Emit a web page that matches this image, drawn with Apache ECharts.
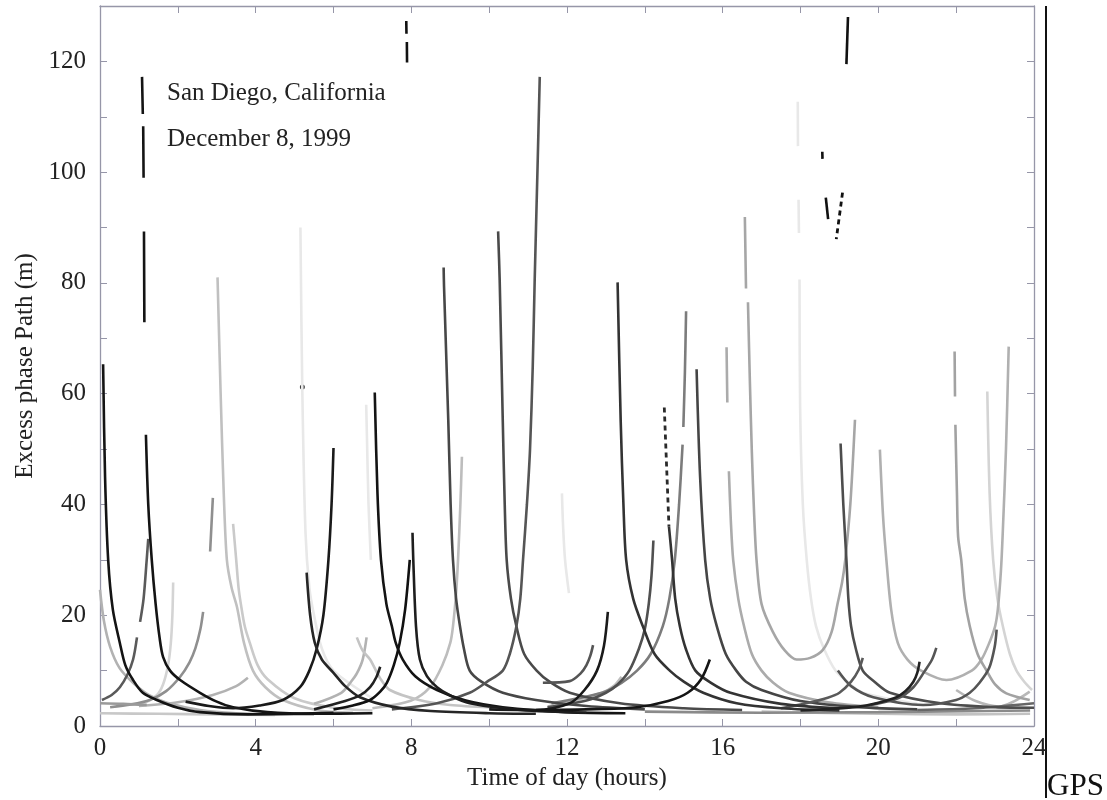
<!DOCTYPE html>
<html><head><meta charset="utf-8">
<script src="https://cdn.jsdelivr.net/npm/echarts@6/dist/echarts.min.js"></script>
<style>html,body{margin:0;padding:0;background:#fff}#c{width:1107px;height:800px}</style>
</head><body><div id="c"></div>
<script>
// ---- data: [time of day (h), excess phase path (m)] ; null = gap in the track ----
const arc01 = [[0.08,65.3],[0.13,45],[0.21,30],[0.33,21],[0.51,15],[0.65,11],[0.85,8.3],[1.1,6],[1.46,4.7],[2.0,3.3],[2.57,2.5],[3.8,2.1],[5.0,2.2],[6.0,2.4]];
const arc02 = [[1.08,117.2],[1.10,110.5],[1.105,null],[1.11,108.3],[1.12,99],[1.125,null],[1.13,89.3],[1.14,72.9],[1.16,null],[1.18,52.6],[1.24,40],[1.33,30],[1.43,22],[1.53,16],[1.62,12.5],[1.8,10],[2.06,8.3],[2.57,6],[3.0,4.4],[3.42,3.4],[4.3,2.5],[5.5,2.2],[7.0,2.3]];
const arc03 = [[0,24.6],[0.1,19],[0.26,14.3],[0.5,10.5],[0.85,7.8],[1.25,5.6],[1.72,4.2],[2.57,2.9],[3.5,2.3],[4.5,2.1],[5.5,2.1]];
const arc04 = [[0.05,4.7],[0.3,5.6],[0.51,7],[0.7,9.2],[0.85,12],[0.95,16],[0.97,null],[1.03,18.8],[1.12,23],[1.2,30],[1.24,33.8]];
const arc05 = [[1.0,3.6],[1.45,5.5],[1.62,7.5],[1.75,11],[1.82,15],[1.86,20],[1.88,25.9]];
const arc06 = [[0.26,3.4],[0.8,3.9],[1.28,4.7],[1.7,6.3],[2.06,8.9],[2.3,11.5],[2.45,14],[2.58,17.5],[2.65,20.6],[2.7,null],[2.83,31.5],[2.9,41.2]];
const arc07 = [[3.02,81],[3.1,60],[3.18,42],[3.26,30],[3.38,25],[3.52,21.5],[3.7,15],[3.93,10],[4.25,7],[4.7,4.7],[5.57,2.9],[6.5,2.4]];
const arc08 = [[3.42,36.5],[3.5,30],[3.56,25],[3.62,22],[3.72,18],[3.85,15],[4.05,11],[4.3,8.5],[5.0,5],[6.0,3.3],[7.0,2.8]];
const arc09 = [[1.0,3.6],[2.0,4.3],[2.9,5.6],[3.5,7.2],[3.8,8.7]];
const arc10 = [[2.2,4.4],[2.8,3.6],[3.42,3.2],[4.1,3.7],[4.7,4.7],[5.14,7],[5.38,10],[5.57,14],[5.74,20],[5.87,30],[5.95,40],[6.0,50.2]];
const arc11 = [[5.31,27.7],[5.4,20],[5.52,15],[5.7,12],[6.0,9.6],[6.3,7.2],[6.68,5.2],[7.5,3.5],[8.5,2.7],[10,2.3],[11.2,2.2]];
const arc12 = [[5.15,90],[5.2,60],[5.28,35],[5.38,25],[5.5,20],[5.7,14],[6.0,10],[7.0,5]];
const arc12b = [[6.84,58],[6.86,52],[6.9,40],[6.96,30]];
const arc12c = [[11.87,42],[11.9,36],[11.95,30],[12.05,24]];
const arc13 = [[7.06,60.2],[7.13,42],[7.22,30],[7.36,22],[7.5,18],[7.6,15],[7.78,12],[8.1,9],[8.66,6.5],[9.4,4.6],[10.35,3.4],[12,2.5],[13.5,2.3]];
const arc14 = [[5.5,4],[6.2,6],[6.45,8],[6.6,9.5],[6.75,12],[6.85,16]];
const arc15 = [[5.5,3],[6.3,4.5],[6.7,5.6],[6.94,7],[7.1,8.8],[7.2,10.7]];
const arc16 = [[6.0,3],[6.5,3.7],[6.94,4.7],[7.2,6.2],[7.37,7.8],[7.55,11],[7.7,15],[7.84,21],[7.96,30]];
const arc16top = [[7.87,127.3],[7.875,125],[7.88,null],[7.885,123.5],[7.89,119.8]];
const arc17 = [[8.03,34.9],[8.05,30],[8.12,18],[8.22,12],[8.4,9],[8.66,7],[9.0,5.5],[9.5,4.1],[10.8,2.9],[12.5,2.4]];
const arc18 = [[8.83,82.8],[8.84,79.4],[8.95,55],[9.01,40],[9.07,30],[9.15,23],[9.25,18],[9.35,14],[9.5,10],[9.8,8],[10.35,6],[11.2,4.7],[12.5,3.6],[14,3.0]];
const arc19 = [[7.0,3.2],[8.0,4.6],[8.48,7],[8.8,11],[9.0,15],[9.07,18],[9.15,24],[9.2,30],[9.26,40],[9.3,48.6]];
const arc20 = [[10.23,89.3],[10.27,80.6],[10.35,55],[10.4,40],[10.45,30],[10.56,23],[10.7,18],[10.9,13],[11.22,10],[11.55,8],[12.07,6],[13.36,4.1],[15,3.2],[16.5,2.9]];
const arc21 = [[7.5,3.0],[8.66,4.1],[9.5,6],[9.95,8],[10.35,10],[10.53,13],[10.7,18],[10.8,23],[10.87,30],[10.97,40],[11.05,50],[11.12,65],[11.17,80.6],[11.24,100],[11.3,117.2]];
const arc22 = [[11.38,7.8],[12.07,8.1],[12.35,9.5],[12.5,11],[12.6,12.7],[12.67,14.6]];
const arc23 = [[10,3.0],[11.2,2.9],[12.07,4.1],[12.45,6.5],[12.77,10],[12.95,14.5],[13.05,20.6]];
const arc24 = [[13.3,80.1],[13.38,55],[13.45,40],[13.52,30],[13.7,23],[13.95,18],[14.25,13],[14.64,10],[15.0,8],[15.5,6],[16.36,4.1],[17.5,3.2],[19,2.8]];
const arc25 = [[11.5,3.4],[12.5,4.6],[13.0,6],[13.3,7.5],[13.6,10],[13.85,14],[14.0,17.5],[14.1,22],[14.17,27],[14.22,33.5]];
const arc26a = [[14.5,57.5],[14.62,36]];
const arc26b = [[14.62,36],[14.7,30],[14.78,23],[14.9,18],[15.05,14],[15.3,10],[15.7,7.8],[16.2,6],[17.5,4],[19,3.2]];
const arc27 = [[11.6,4.1],[12.9,6],[13.4,7.8],[13.8,10],[14.15,13],[14.46,18],[14.63,23],[14.77,30],[14.88,40],[14.97,50.8],[14.98,null],[14.99,54],[15.03,64],[15.06,74.9]];
const arc28 = [[15.33,64.4],[15.42,45],[15.55,30],[15.68,23],[15.85,18],[16.08,13],[16.35,10],[16.6,8],[17.0,6.5],[18.0,4.5],[19.5,3.4],[21,3.0]];
const arc29 = [[11.2,2.9],[12.5,3.0],[13.8,3.4],[14.6,4.5],[15.1,6],[15.45,8.5],[15.67,12]];
const arc30 = [[16.1,68.4],[16.12,58.4],[16.14,null],[16.16,46],[16.21,37],[16.27,30],[16.4,23],[16.55,18],[16.75,13],[17.0,10],[17.3,7.8],[17.7,6],[18.7,4.3],[20,3.4]];
const arc31 = [[16.57,91.9],[16.6,79],[16.62,null],[16.65,76.5],[16.7,62],[16.75,49.4],[16.81,38],[16.87,30],[17.0,22],[17.29,17],[17.6,13.6],[17.9,12],[18.25,12.3],[18.57,13.7],[18.8,17],[18.95,22],[19.07,26],[19.15,30],[19.28,40],[19.4,55.3]];
const arc34 = [[17.93,112.7],[17.935,104.7],[17.94,null],[17.95,95],[17.96,89],[17.97,null],[17.975,80.6],[17.99,57.7],[18.06,40],[18.16,30],[18.27,23],[18.4,18],[18.6,14],[18.9,10],[19.2,8],[19.6,6],[21,4]];
const arc35 = [[19.03,51],[19.1,40],[19.18,30],[19.23,23],[19.3,18],[19.42,14],[19.6,10],[19.9,8],[20.3,6],[21.6,4.1],[23,3.4],[24,3.3]];
const top1 = [[19.22,128],[19.18,119.5]];
const top2 = [[18.56,103.7],[18.565,102.4]];
const top3 = [[18.65,95.4],[18.71,91.5]];
const top4 = [[19.08,96.3],[18.92,87.9]];
const arc36 = [[20.04,49.9],[20.12,38],[20.2,30.6],[20.33,21],[20.5,15],[20.75,12],[21.1,10],[21.75,8.3],[22.4,10],[22.65,12],[22.85,15],[23.0,18],[23.07,21],[23.15,28],[23.2,35.4],[23.28,50],[23.35,68.5]];
const arc37 = [[21.96,67.6],[21.97,59.5],[21.975,null],[21.98,54.4],[22.02,42],[22.05,34.2],[22.13,30],[22.22,23],[22.35,18],[22.55,13],[22.78,10],[23.0,7.5],[23.29,5.9],[23.89,4.7]];
const arc38 = [[22.8,60.4],[22.86,42],[22.95,30],[23.06,23],[23.2,18],[23.38,13],[23.55,10],[23.75,8],[23.95,6.5]];
const arc39 = [[18.96,10],[19.3,7.2],[19.87,5.2],[21.15,3.8],[22.0,4.7],[22.35,6],[22.6,7.8],[22.85,10.5],[22.99,14.3],[23.04,17.4]];
const arc40 = [[18,2.8],[19.5,3.5],[20.4,5],[20.7,6.3],[20.9,8],[21.0,9.6],[21.06,11.6]];
const arc41 = [[19.8,3.8],[20.5,5],[20.9,7],[21.2,10],[21.38,12],[21.49,14.1]];
const arc42 = [[17.5,3.2],[18.15,4.1],[18.7,5.1],[19.0,6],[19.3,8],[19.5,10.2],[19.6,12.3]];
const arc44 = [[22.0,6.5],[22.5,4.5],[23.1,3.5],[23.5,4.5],[23.89,6.2]];
const arc45 = [[21,2.9],[22.5,3.2],[24,4.1]];
const arc46 = [[11.5,3.5],[12.25,4.7],[12.9,6],[13.2,7.2],[13.4,8.9]];
const arc47 = [[6.6,16],[6.75,13.6],[6.94,12],[7.2,8.6],[7.45,6.5],[8.2,4.7],[9,3.8],[10,3.4]];
const base1 = [[0,2.3],[1.5,2.2],[3,2.1],[4.5,2.0]];
const base2 = [[0,4.1],[0.6,4.0],[1.2,3.8]];
const base3 = [[17,2.6],[20,2.2],[22,2.1],[23.9,2.2]];
const base4 = [[14,2.6],[17,2.4],[20,2.5],[23.9,2.8]];
const dots = [[5.2,61.2]];

const xLabels = ['0','4','8','12','16','20','24'];
const yLabels = ['0','20','40','60','80','100','120'];

// ---- styles (separate from data) ----
const K='#141414', D='#474747', M='#7c7c7c', L='#b2b2b2', V='#d4d4d4', F='#e8e8e8';
const tracks = [
  [arc34,F],[arc12,F],[arc12b,F],[arc12c,F],
  [arc05,V],[arc38,V],[arc08,'#cacaca'],[base1,'#c8c8c8'],[base3,'#c2c2c2'],
  [arc03,L],[arc07,'#c0c0c0'],[arc09,L],[arc14,L],[arc19,'#bdbdbd'],[arc46,'#bebebe'],[arc47,'#c4c4c4'],[arc30,'#ababab'],[arc31,'#a6a6a6'],[arc36,'#b0b0b0'],[arc44,'#b8b8b8'],[arc37,'#a2a2a2'],
  [arc06,'#8f8f8f'],[base2,'#9a9a9a'],[base4,'#8a8a8a'],[arc27,M],[arc45,'#666'],
  [arc04,'#5a5a5a'],[arc18,D],[arc20,'#4a4a4a'],[arc21,'#555'],[arc22,'#555'],[arc25,'#505050'],[arc28,'#454545'],[arc35,'#4d4d4d'],[arc39,'#555'],[arc41,'#555'],[arc42,'#5a5a5a'],[arc24,'#333'],[arc26b,'#333'],
  [arc01,K],[arc02,K],[arc10,'#1a1a1a'],[arc11,'#262626'],[arc13,K],[arc15,'#222'],[arc16,'#111'],[arc16top,'#111'],[arc17,'#1e1e1e'],[arc23,'#1a1a1a'],[arc29,'#151515'],[arc40,'#222'],
  [top1,'#111'],[top2,'#111'],[top3,'#111']
];
const dashedTracks = [[arc26a,'#2a2a2a'],[top4,'#111']];

const series = tracks.map(([d,c]) => ({
  type:'line', data:d, symbol:'none', smooth:0.3, silent:true,
  lineStyle:{color:c, width:2.6}, connectNulls:false
})).concat(dashedTracks.map(([d,c]) => ({
  type:'line', data:d, symbol:'none', silent:true,
  lineStyle:{color:c, width:2.8, type:[5,4]}
}))).concat([{type:'scatter', data:dots, symbol:'circle', symbolSize:5, itemStyle:{color:'#111'}, silent:true}]);

const serif = '"Liberation Serif", "Times New Roman", serif';
const frame = '#9696a8';
const axisCommon = {
  type:'value', axisLine:{show:true, onZero:false, lineStyle:{color:frame, width:1.3}},
  axisTick:{show:true, inside:true, length:7, lineStyle:{color:frame, width:1}},
  splitLine:{show:false}
};

const chart = echarts.init(document.getElementById('c'), null, {renderer:'canvas'});
chart.setOption({
  animation:false,
  backgroundColor:'#fff',
  grid:{left:100, right:73, top:6, bottom:74, containLabel:false},
  xAxis:[
    Object.assign({}, axisCommon, {position:'bottom', min:0, max:24, interval:2,
      axisLabel:{margin:10, color:'#222', fontFamily:serif, fontSize:25,
        formatter:v => xLabels.includes(String(v)) ? String(v) : ''},
      name:'Time of day (hours)', nameLocation:'middle', nameGap:40,
      nameTextStyle:{fontFamily:serif, fontSize:25, color:'#222'}}),
    Object.assign({}, axisCommon, {position:'top', min:0, max:24, interval:2, axisLabel:{show:false}})
  ],
  yAxis:[
    Object.assign({}, axisCommon, {position:'left', min:0, max:130, interval:10,
      axisLabel:{margin:14, color:'#222', fontFamily:serif, fontSize:25,
        formatter:v => yLabels.includes(String(v)) ? String(v) : ''},
      name:'Excess phase Path (m)', nameLocation:'middle', nameGap:62,
      nameTextStyle:{fontFamily:serif, fontSize:25, color:'#222'}}),
    Object.assign({}, axisCommon, {position:'right', min:0, max:130, interval:10, axisLabel:{show:false}})
  ],
  graphic:[
    {type:'text', left:167, top:81, style:{text:'San Diego, California', font:'25px ' + serif, fill:'#222'}},
    {type:'text', left:167, top:127, style:{text:'December 8, 1999', font:'25px ' + serif, fill:'#222'}},
    {type:'text', left:1047, top:771, style:{text:'GPS', font:'31px ' + serif, fill:'#111'}},
    {type:'line', shape:{x1:1046, y1:6, x2:1046, y2:798}, style:{stroke:'#111', lineWidth:2}}
  ],
  series
});
</script></body></html>
